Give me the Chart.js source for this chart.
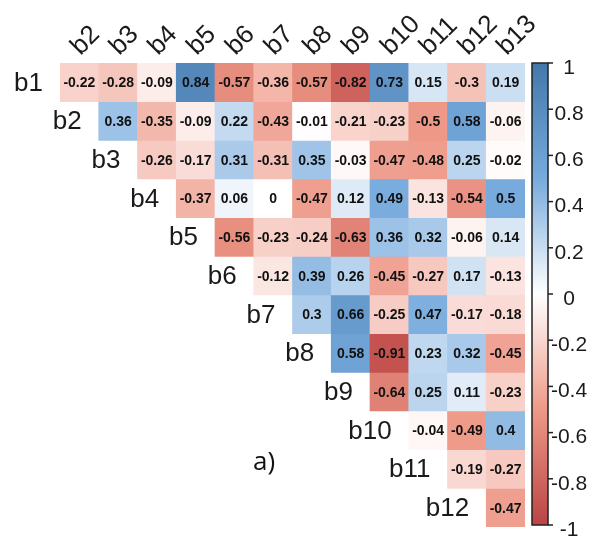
<!DOCTYPE html>
<html>
<head>
<meta charset="utf-8">
<script src="https://cdn.jsdelivr.net/npm/chart.js@4"></script>
<style>
    body { margin: 0; background: #ffffff; }
    #wrap { width: 595px; height: 538px; }
</style>
</head>
<body>
<div id="wrap"><canvas id="corrChart" width="595" height="538"></canvas></div>
<script>
// Étiquettes des lignes et des colonnes (triangle supérieur)
const rowLabels = ['b1', 'b2', 'b3', 'b4', 'b5', 'b6', 'b7', 'b8', 'b9', 'b10', 'b11', 'b12'];
const colLabels = ['b2', 'b3', 'b4', 'b5', 'b6', 'b7', 'b8', 'b9', 'b10', 'b11', 'b12', 'b13'];

// Coefficients de corrélation, une liste par ligne
const rowB1 = [-0.22, -0.28, -0.09, 0.84, -0.57, -0.36, -0.57, -0.82, 0.73, 0.15, -0.3, 0.19];
const rowB2 = [0.36, -0.35, -0.09, 0.22, -0.43, -0.01, -0.21, -0.23, -0.5, 0.58, -0.06];
const rowB3 = [-0.26, -0.17, 0.31, -0.31, 0.35, -0.03, -0.47, -0.48, 0.25, -0.02];
const rowB4 = [-0.37, 0.06, 0, -0.47, 0.12, 0.49, -0.13, -0.54, 0.5];
const rowB5 = [-0.56, -0.23, -0.24, -0.63, 0.36, 0.32, -0.06, 0.14];
const rowB6 = [-0.12, 0.39, 0.26, -0.45, -0.27, 0.17, -0.13];
const rowB7 = [0.3, 0.66, -0.25, 0.47, -0.17, -0.18];
const rowB8 = [0.58, -0.91, 0.23, 0.32, -0.45];
const rowB9 = [-0.64, 0.25, 0.11, -0.23];
const rowB10 = [-0.04, -0.49, 0.4];
const rowB11 = [-0.19, -0.27];
const rowB12 = [-0.47];
const allRows = [rowB1, rowB2, rowB3, rowB4, rowB5, rowB6, rowB7, rowB8, rowB9, rowB10, rowB11, rowB12];

// Graduations de la légende de couleur
const colorbarTicks = [1, 0.8, 0.6, 0.4, 0.2, 0, -0.2, -0.4, -0.6, -0.8, -1];

// Palette (de -1 à 1)
const palette = ['#BB4444', '#EE9988', '#FFFFFF', '#77AADD', '#4477AA'];

const hexToRgb = (hex) => [1, 3, 5].map(i => parseInt(hex.slice(i, i + 2), 16));

// Couleur d'une valeur par interpolation linéaire dans la palette
const getColor = (value) => {
    const t = (value + 1) / 2 * (palette.length - 1);
    const i = Math.min(palette.length - 2, Math.floor(t));
    const f = t - i;
    const a = hexToRgb(palette[i]);
    const b = hexToRgb(palette[i + 1]);
    const c = a.map((v, k) => Math.round(v + (b[k] - v) * f));
    return `rgb(${c[0]}, ${c[1]}, ${c[2]})`;
};

// Un jeu de données par ligne : barres flottantes [i, i+1]
const datasets = allRows.map((values, i) => ({
    label: rowLabels[i],
    data: colLabels.map((c, j) => (j >= i ? [i, i + 1] : null)),
    backgroundColor: colLabels.map((c, j) => (j >= i ? getColor(values[j - i]) : 'transparent')),
    borderWidth: 0,
    grouped: false,
    barPercentage: 1,
    categoryPercentage: 1,
}));

// Plugin : valeurs dans les cases, étiquettes et légende de couleur
const corrLabels = {
    id: 'corrLabels',
    afterDatasetsDraw(chart) {
        const ctx = chart.ctx;
        const area = chart.chartArea;
        const xScale = chart.scales.x;
        const yScale = chart.scales.y;
        const cellW = xScale.getPixelForValue(1) - xScale.getPixelForValue(0);

        ctx.save();

        // Valeurs dans les cases
        ctx.font = 'bold 14px "Liberation Sans", Arial, sans-serif';
        ctx.fillStyle = '#111111';
        ctx.textAlign = 'center';
        ctx.textBaseline = 'middle';
        allRows.forEach((values, i) => {
            const meta = chart.getDatasetMeta(i);
            values.forEach((v, k) => {
                const el = meta.data[i + k];
                ctx.fillText(String(v), el.x, (el.y + el.base) / 2 + 1);
            });
        });

        // Étiquettes des lignes
        ctx.font = '26px "Liberation Sans", Arial, sans-serif';
        ctx.fillStyle = '#1a1a1a';
        ctx.textAlign = 'right';
        rowLabels.forEach((label, i) => {
            const x = xScale.getPixelForValue(i) - cellW / 2 - 17;
            const y = yScale.getPixelForValue(i + 0.5);
            ctx.fillText(label, x, y + 1);
        });

        // Étiquettes des colonnes (inclinées à 45°)
        ctx.textAlign = 'left';
        ctx.textBaseline = 'alphabetic';
        colLabels.forEach((label, j) => {
            ctx.save();
            ctx.translate(xScale.getPixelForValue(j) + 1, area.top - 7);
            ctx.rotate(-Math.PI / 4);
            ctx.fillText(label, 0, 0);
            ctx.restore();
        });

        // Légende de couleur
        const barLeft = area.right + 7;
        const barWidth = 16;
        const barTop = area.top;
        const barBottom = area.bottom - 2;
        const grad = ctx.createLinearGradient(0, barTop, 0, barBottom);
        palette.slice().reverse().forEach((c, k) => grad.addColorStop(k / (palette.length - 1), c));
        ctx.fillStyle = grad;
        ctx.fillRect(barLeft, barTop, barWidth, barBottom - barTop);
        ctx.strokeStyle = '#222222';
        ctx.lineWidth = 1.5;
        ctx.strokeRect(barLeft, barTop, barWidth, barBottom - barTop);

        ctx.font = '21px "Liberation Sans", Arial, sans-serif';
        ctx.fillStyle = '#1a1a1a';
        ctx.textAlign = 'center';
        ctx.textBaseline = 'middle';
        colorbarTicks.forEach((t) => {
            const y = barTop + (1 - t) / 2 * (barBottom - barTop);
            ctx.beginPath();
            ctx.moveTo(barLeft + barWidth, y);
            ctx.lineTo(barLeft + barWidth + 5, y);
            ctx.stroke();
            ctx.fillText(String(t), barLeft + barWidth + 21, y + 5);
        });

        // Repère de la figure
        ctx.font = '26px "Open Sans", sans-serif';
        ctx.textAlign = 'center';
        ctx.fillStyle = '#111111';
        ctx.fillText('a)', 264, 463);

        ctx.restore();
    },
};

const ctxChart = document.getElementById('corrChart').getContext('2d');
const corrChart = new Chart(ctxChart, {
    type: 'bar',
    data: {
        labels: colLabels,
        datasets: datasets,
    },
    options: {
        responsive: false,
        animation: false,
        layout: {
            padding: { left: 60, top: 63, right: 70, bottom: 11 },
        },
        scales: {
            x: {
                type: 'category',
                display: false,
                offset: true,
                grid: { display: false },
            },
            y: {
                type: 'linear',
                display: false,
                min: 0,
                max: rowLabels.length,
                reverse: true,
            },
        },
        plugins: {
            legend: { display: false },
            tooltip: { enabled: false },
        },
    },
    plugins: [corrLabels],
});
</script>
</body>
</html>
